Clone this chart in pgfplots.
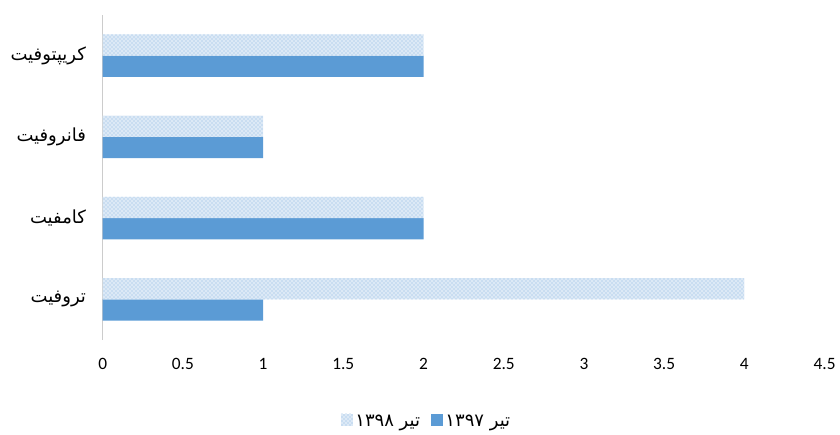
\documentclass[border=0pt]{standalone}
\usepackage{fontspec}
\setmainfont{Carlito}
\newfontfamily\arabicfont[Script=Arabic]{DejaVu Sans}
\usepackage{pgfplots}
\pgfplotsset{compat=1.18}
\usetikzlibrary{patterns}
\TeXXeTstate=1
\definecolor{solidblue}{HTML}{5B9BD5}
\definecolor{lightfill}{HTML}{DCE9F6}
\definecolor{dotblue}{HTML}{8DB8E3}
\begin{document}
\begin{tikzpicture}
\begin{axis}[
  scale only axis,
  width=541.5pt, height=243.75pt,
  xbar, bar width=16pt,
  xmin=0, xmax=4.5, ymin=-0.5, ymax=3.5,
  xtick={0,0.5,...,4.5},
  ytick={0,1,2,3},
  yticklabels={{\arabicfont\beginR تروفیت\endR},{\arabicfont\beginR کامفیت\endR},{\arabicfont\beginR فانروفیت\endR},{\arabicfont\beginR کریپتوفیت\endR}},
  axis lines*=left,
  x axis line style={draw=none},
  y axis line style={draw=gray!40, line width=1pt},
  major tick length=0pt,
  /pgf/number format/assume math mode=true,
  xticklabel style={font=\fontsize{13}{15}\selectfont, yshift=-10pt},
  yticklabel style={font=\fontsize{13.5}{15}\selectfont, xshift=-9pt},
  legend style={draw=none, at={(0.449,0)}, anchor=center, yshift=-61.5pt,
    font=\fontsize{13.5}{15}\selectfont, legend columns=2,
    /tikz/every even column/.append style={column sep=6pt}},
  reverse legend,
  legend image code/.code={\path[#1] (0pt,-3pt) rectangle (9pt,6pt);},
]
\addplot[fill=solidblue, draw=none, bar shift=-8pt] coordinates {(1,0) (2,1) (1,2) (2,3)};
\addlegendentry{\arabicfont\beginR تیر ۱۳۹۷\endR}
\addplot[fill=lightfill, draw=none, bar shift=8pt, postaction={pattern=crosshatch dots, pattern color=dotblue}] coordinates {(4,0) (2,1) (1,2) (2,3)};
\addlegendentry{\arabicfont\beginR تیر ۱۳۹۸\endR}
\end{axis}
\useasboundingbox (current axis.south west) ++(-77pt,-71.25pt) rectangle ++(630pt,326.25pt);
\end{tikzpicture}
\end{document}
